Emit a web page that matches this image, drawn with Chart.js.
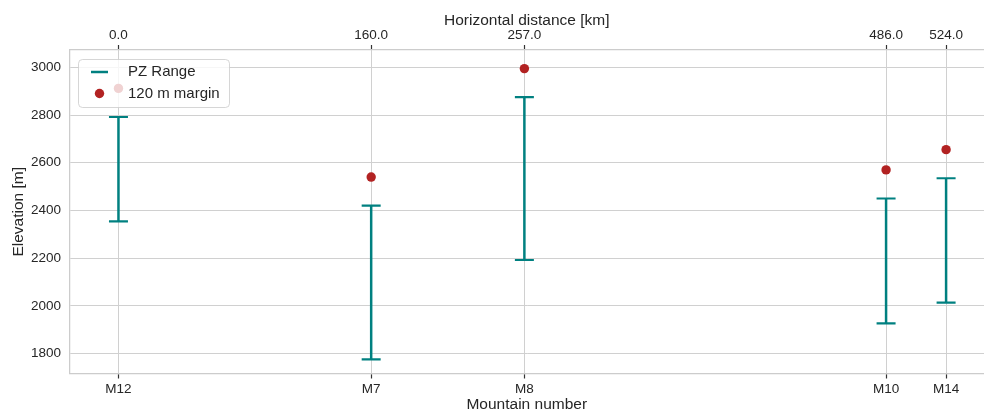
<!DOCTYPE html>
<html>
<head>
<meta charset="utf-8">
<title>PZ ranges</title>
<script src="https://cdn.jsdelivr.net/npm/chart.js@4.4.1/dist/chart.umd.min.js"></script>
<style>
  html, body { margin: 0; padding: 0; background: #fff; overflow: hidden; }
  #wrap { width: 984px; height: 414px; }
  canvas { display: block; }
</style>
</head>
<body>
<div id="wrap"><canvas id="pzChart" width="984" height="414"></canvas></div>
<script>
// mountains along the profile
let mountains = ["M12", "M7", "M8", "M10", "M14"];
let distances = [0, 160, 257, 486, 524]; // km
let pzLow = [2354, 1775, 2192, 1926, 2013]; // m
let pzHigh = [2792, 2420, 2875, 2450, 2535]; // m
let marginTop = [2912, 2540, 2995, 2570, 2655]; // m
let yTicks = [1800, 2000, 2200, 2400, 2600, 2800, 3000];

const FONT = "'Liberation Sans', Arial, sans-serif";
const TEXT = "#262626";
const GRID = "#d0d0d0";
const TEAL = "#008080";
const RED = "#b22222";

// vertical ranges, broken apart with null points
let rangePoints = [];
for (let i = 0; i < distances.length; i++) {
    rangePoints.push({ x: distances[i], y: pzLow[i] });
    rangePoints.push({ x: distances[i], y: pzHigh[i] });
    rangePoints.push({ x: distances[i], y: null });
}
let marginPoints = distances.map((d, i) => ({ x: d, y: marginTop[i] }));

// legend box in the upper left of the plot
const boxLegend = {
    id: "boxLegend",
    afterDatasetsDraw(chart) {
        const ctx = chart.ctx;
        const x = 78, y = 59, w = 151, h = 48;
        ctx.save();
        ctx.beginPath();
        ctx.roundRect(x + 0.5, y + 0.5, w, h, 4);
        ctx.fillStyle = "rgba(255,255,255,0.8)";
        ctx.fill();
        ctx.strokeStyle = "rgba(204,204,204,0.8)";
        ctx.lineWidth = 1;
        ctx.stroke();

        const ds = chart.data.datasets;
        ctx.strokeStyle = TEAL;
        ctx.lineWidth = 2.5;
        ctx.beginPath();
        ctx.moveTo(91, 72);
        ctx.lineTo(108, 72);
        ctx.stroke();

        ctx.fillStyle = RED;
        ctx.beginPath();
        ctx.arc(99.5, 93.5, 4.7, 0, Math.PI * 2);
        ctx.fill();

        ctx.fillStyle = TEXT;
        ctx.font = "15px " + FONT;
        ctx.textBaseline = "middle";
        ctx.textAlign = "left";
        ctx.fillText(ds[0].label, 128, 72);
        ctx.fillText(ds[1].label, 128, 93.5);
        ctx.restore();
    }
};

// fixed axis bands, plot runs to the right edge
function fixX(height) {
    return (s) => {
        s.height = height;
        s.paddingLeft = 0;
        s.paddingRight = 0;
    };
}

let chart = new Chart(document.getElementById("pzChart").getContext("2d"), {
    type: "scatter",
    data: {
        datasets: [{
            label: "PZ Range",
            data: rangePoints,
            showLine: true,
            spanGaps: false,
            borderColor: TEAL,
            borderWidth: 2.5,
            pointStyle: "line",
            pointRadius: 9.5,
            pointBorderWidth: 2.2,
            pointBorderColor: TEAL,
            pointHoverRadius: 9.5,
            xAxisID: "x",
            yAxisID: "y"
        }, {
            label: "120 m margin",
            data: marginPoints,
            pointStyle: "circle",
            pointRadius: 4.7,
            pointBorderWidth: 0,
            backgroundColor: RED,
            borderColor: RED,
            xAxisID: "x",
            yAxisID: "y"
        }]
    },
    options: {
        responsive: false,
        animation: false,
        devicePixelRatio: 1,
        layout: { padding: 0, autoPadding: false },
        plugins: {
            legend: { display: false },
            tooltip: { enabled: false }
        },
        scales: {
            x: {
                type: "linear",
                position: "bottom",
                min: -31,
                max: 548,
                afterBuildTicks: (s) => { s.ticks = distances.map(v => ({ value: v })); },
                afterFit: fixX(40.5),
                ticks: {
                    color: TEXT,
                    font: { family: FONT, size: 13.5 },
                    padding: 2.5,
                    maxRotation: 0,
                    autoSkip: false,
                    callback: (v) => mountains[distances.indexOf(v)]
                },
                grid: { color: GRID, lineWidth: 1, tickColor: "#333", tickLength: 5, tickWidth: 1.2 },
                border: { color: "#cccccc", width: 1.25 },
                title: {
                    display: true,
                    text: "Mountain number",
                    color: TEXT,
                    font: { family: FONT, size: 15.5 },
                    padding: { top: 0, bottom: -0.5 }
                }
            },
            xTop: {
                type: "linear",
                position: "top",
                min: -31,
                max: 548,
                afterBuildTicks: (s) => { s.ticks = distances.map(v => ({ value: v })); },
                afterFit: fixX(50),
                ticks: {
                    color: TEXT,
                    font: { family: FONT, size: 13.5 },
                    padding: 1.5,
                    maxRotation: 0,
                    autoSkip: false,
                    callback: (v) => v.toFixed(1)
                },
                grid: { drawOnChartArea: false, color: GRID, tickColor: "#333", tickLength: 5, tickWidth: 1.2 },
                border: { color: "#cccccc", width: 1.25 },
                title: {
                    display: true,
                    text: "Horizontal distance [km]",
                    color: TEXT,
                    font: { family: FONT, size: 15.5 },
                    padding: { top: 11, bottom: 0 }
                }
            },
            y: {
                type: "linear",
                position: "left",
                min: 1716,
                max: 3073,
                afterBuildTicks: (s) => { s.ticks = yTicks.map(v => ({ value: v })); },
                afterFit: (s) => { s.width = 69.5; },
                ticks: {
                    color: TEXT,
                    font: { family: FONT, size: 13.5 },
                    padding: 8.5,
                    callback: (v) => String(v)
                },
                grid: { color: GRID, lineWidth: 1, drawTicks: false },
                border: { color: "#cccccc", width: 1.25 },
                title: {
                    display: true,
                    text: "Elevation [m]",
                    color: TEXT,
                    font: { family: FONT, size: 15.5 },
                    padding: { top: 9, bottom: 0 }
                }
            }
        }
    },
    plugins: [boxLegend]
});
</script>
</body>
</html>
